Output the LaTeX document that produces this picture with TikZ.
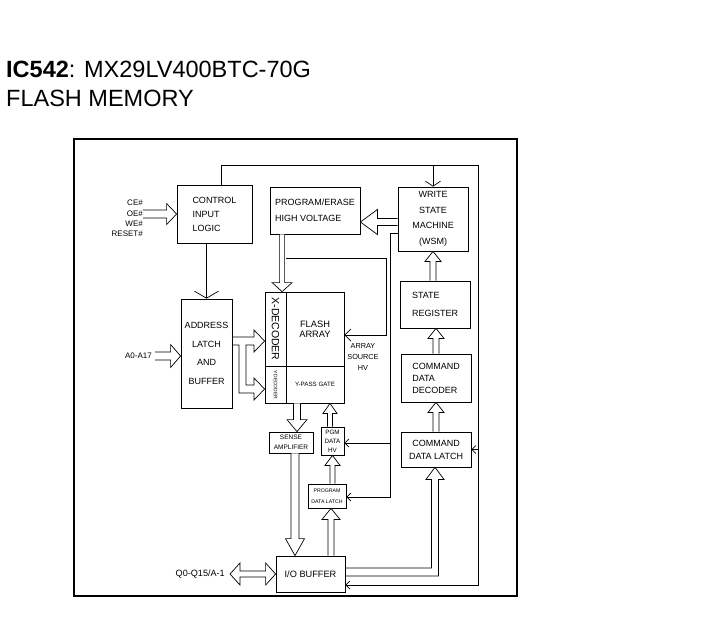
\documentclass[tikz,border=0pt]{standalone}
\usepackage{fontspec}
\setmainfont{Liberation Sans}
\usetikzlibrary{arrows.meta,calc,positioning}
\newcommand\fsz[2]{\fontsize{#1}{#2}\selectfont}
\begin{document}
\begin{tikzpicture}[x=1pt, y=-1pt,
	blk/.style={draw, line width=0.8pt, inner sep=0pt, font=\fsz{9}{14}},
	lbl/.style={inner sep=0pt},
	wire/.style={line width=0.7pt},
	tip/.style={-{Straight Barb[length=4pt,width=8pt]}},
	vtip/.style={-{Straight Barb[length=7pt,width=24pt]}},
	fat/.style args={#1/#2/#3}{draw, fill=white, line width=0.7pt,
		to path={let \p1=(\tikztostart), \p2=(\tikztotarget),
			\n1={atan2(\y2-\y1,\x2-\x1)}, \n2={veclen(\x2-\x1,\y2-\y1)} in
			{[shift={(\p1)}, rotate=\n1]
			(0pt,-#1) -- ({\n2*1pt-#3},-#1) -- ({\n2*1pt-#3},-#2) -- ({\n2*1pt},0pt)
			-- ({\n2*1pt-#3},#2) -- ({\n2*1pt-#3},#1) -- (0pt,#1)}}},
	fat/.default={3.5pt/10pt/11pt},
	fatboth/.style={draw, fill=white, line width=0.7pt,
		to path={let \p1=(\tikztostart), \p2=(\tikztotarget),
			\n1={atan2(\y2-\y1,\x2-\x1)}, \n2={veclen(\x2-\x1,\y2-\y1)} in
			{[shift={(\p1)}, rotate=\n1]
			(0pt,0pt) -- (10pt,-11pt) -- (10pt,-3pt) -- ({\n2*1pt-10pt},-3pt) -- ({\n2*1pt-10pt},-11pt)
			-- ({\n2*1pt},0pt) -- ({\n2*1pt-10pt},11pt) -- ({\n2*1pt-10pt},3pt) -- (10pt,3pt) -- (10pt,11pt) -- cycle}}}]
	
	\useasboundingbox (0,0) rectangle (717,624);
	
	\node (ttl) [lbl, anchor=base west, font=\fsz{23.5}{28}] at (6,77) {\textbf{IC542}: MX29LV400BTC-70G};
	\node (sub) [lbl, anchor=base west, font=\fsz{23.5}{28}] at (6,106) {FLASH MEMORY};
	
	\draw[line width=1.8pt] (74,139) rectangle (517,596);
	
	\node (ctrl) [blk, minimum width=75pt, minimum height=58pt, align=left] at (214.5,214) {CONTROL\\INPUT\\LOGIC};
	\node (pe) [blk, minimum width=90pt, minimum height=47pt, align=left, font=\fsz{9}{16}] at (315,210.5) {PROGRAM/ERASE\\HIGH VOLTAGE};
	\node (wsm) [blk, minimum width=70pt, minimum height=64pt, align=center, font=\fsz{9}{15.5}] at (433,219) {WRITE\\STATE\\MACHINE\\(WSM)};
	\node (sreg) [blk, minimum width=70pt, minimum height=47pt, align=left, font=\fsz{9}{18}] at (435,304.5) {STATE\\REGISTER};
	\node (cdec) [blk, minimum width=70pt, minimum height=48pt, align=left, font=\fsz{9}{12}] at (436,378) {COMMAND\\DATA\\DECODER};
	\node (clatch) [blk, minimum width=70pt, minimum height=35pt, align=center, font=\fsz{9}{13}] at (436,449.5) {COMMAND\\DATA LATCH};
	\node (addr) [blk, minimum width=51pt, minimum height=109pt, align=center, font=\fsz{9}{18.5}] at (206.5,353.5) {ADDRESS\\LATCH\\AND\\BUFFER};
	\node (xdec) [blk, minimum width=21pt, minimum height=74pt] at (275.5,329) {};
	\node (ydec) [blk, minimum width=21pt, minimum height=37pt] at (275.5,384.5) {};
	\node (flash) [blk, minimum width=58pt, minimum height=74pt, align=center, font=\fsz{9.3}{10}] at (315,329) {FLASH\\ARRAY};
	\node (ypass) [blk, minimum width=58pt, minimum height=37pt, font=\fsz{6.2}{7}] at (315,384.5) {Y-PASS GATE};
	\node (sense) [blk, minimum width=44pt, minimum height=21pt, align=center, font=\fsz{6.5}{10}] at (291,442.5) {SENSE\\AMPLIFIER};
	\node (pgmhv) [blk, minimum width=23pt, minimum height=28pt, align=center, font=\fsz{6.3}{9}] at (332.5,441) {PGM\\DATA\\HV};
	\node (pdl) [blk, minimum width=38pt, minimum height=24pt, align=center, font=\fsz{5.2}{10.5}] at (327,496) {PROGRAM\\DATA LATCH};
	\node (io) [blk, minimum width=69pt, minimum height=36pt, font=\fsz{9.2}{11}] at (310.5,574) {I/O BUFFER};
	
	\node (xdectxt) [lbl, rotate=-90, font=\fsz{10.5}{12}] at (xdec) {X-DECODER};
	\node (ydectxt) [lbl, rotate=-90, font=\fsz{4.9}{6}] at (ydec) {Y-DECODER};
	
	\node (ins) [lbl, anchor=east, align=right, font=\fsz{8}{10.2}] at (143,218.5) {CE\#\\OE\#\\WE\#\\RESET\#};
	\node (ain) [lbl, anchor=east, font=\fsz{8}{9}] at (152,356) {A0-A17};
	\node (ash) [lbl, align=center, font=\fsz{7.3}{11}] at (363,357) {ARRAY\\SOURCE\\HV};
	\node (qio) [lbl, anchor=east, font=\fsz{9.1}{11}] at (225,574) {Q0-Q15/A-1};
	
	\coordinate (tr) at (478,165);
	\coordinate (br) at (478,585);
	\coordinate (ast) at (286,258);
	\coordinate (asv) at (386,258);
	\coordinate (wv) at (390,233);
	\coordinate (pex) at ([xshift=12.5pt]pe.south west);
	\coordinate (sx) at ([xshift=6pt]sense.north);
	\coordinate (sy) at ([xshift=4pt]sense.south);
	\coordinate (px) at ([xshift=-2.5pt]pgmhv.north);
	\coordinate (ix) at ([xshift=4pt]pdl.south);
	\coordinate (ct) at ([xshift=-1pt]clatch.south);
	
	\draw [wire, tip] ([xshift=6.5pt]ctrl.north) |- (tr) -- (br) -- (br -| io.east);
	\draw [wire, -{Straight Barb[length=5pt,width=15pt]}] (wsm.north |- tr) -- (wsm.north);
	\draw [wire, tip] (tr |- clatch.east) -- (clatch.east);
	\draw [wire, vtip] (addr.north |- ctrl.south) -- (addr.north);
	\draw [wire, -{Straight Barb[length=6pt,width=12pt]}] (ast) -- (asv) |- (flash.east |- 0,335);
	\draw [wire, tip] ([yshift=-14pt]wsm.west) -- (wv) |- (pdl.east |- 0,497);
	\draw [wire, tip] (wv |- 0,443) -- (pgmhv.east |- 0,443);
	
	\draw [fat=4pt/10.5pt/10pt] (ins.east |- ctrl.west) to (ctrl.west);
	\draw [fat=4pt/11.5pt/10pt] ([xshift=3pt]ain.east) to (addr.west |- ain.east);
	\draw [fat=3.5pt/12.5pt/17pt] ([yshift=-3pt]wsm.west) to ([yshift=-3pt]wsm.west -| pe.east);
	\draw [fat=2.5pt/10pt/9pt] (pex) to (pex |- xdec.north);
	\draw [fat=3pt/8pt/10pt] (wsm.south |- sreg.north) to (wsm.south);
	\draw [fat=3pt/8pt/10pt] (cdec.north) to (cdec.north |- sreg.south);
	\draw [fat=3pt/8pt/10pt] (clatch.north) to (clatch.north |- cdec.south);
	\draw [fat=3.5pt/10pt/12pt] (sx |- ypass.south) to (sx);
	\draw [fat=4pt/9.5pt/17pt] (sy) to (sy |- io.north);
	\draw [fat=2.5pt/7pt/10pt] (px) to (px |- ypass.south);
	\draw [fat=2.5pt/7.5pt/10pt] (pgmhv.south |- pdl.north) to (pgmhv.south);
	\draw [fat=3pt/9pt/11pt] (ix |- io.north) to (ix);
	\draw [fatboth] ([xshift=5pt]qio.east) to (io.west);
	
	\draw [wire] (io.east |- 0,568) -| ($(ct)+(-3.5,12)$) -- ($(ct)+(-9,12)$) -- (ct)
		-- ($(ct)+(9,12)$) -- ($(ct)+(3.5,12)$) |- (io.east |- 0,576);
	\draw [wire] (addr.east |- 0,337) -- (254,337) -- (254,330) -- (xdec.west |- 0,341) -- (254,352)
		-- (254,345) -- (246,345) -- (246,385) -- (254,385) -- (254,378) -- (ydec.west |- 0,389)
		-- (254,400) -- (254,393) -- (239,393) -- (239,345) -- (addr.east |- 0,345);
\end{tikzpicture}
\end{document}
